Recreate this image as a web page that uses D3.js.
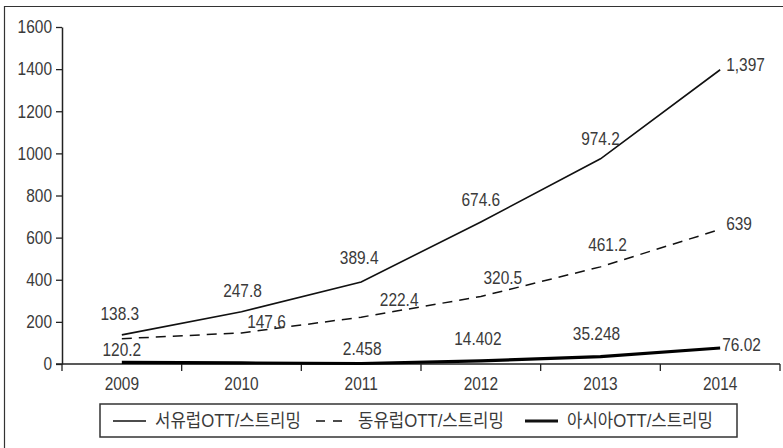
<!DOCTYPE html>
<html>
<head>
<meta charset="utf-8">
<script src="https://cdn.jsdelivr.net/npm/d3@7"></script>
<style>
  html, body { margin: 0; padding: 0; background: #fff; }
  svg text { font-family: "Liberation Sans", "Noto Sans CJK KR", sans-serif; fill: #3a3a3a; font-size: 18px; }
</style>
</head>
<body>
<svg id="chart" width="783" height="448"></svg>
<script>
// Market size by region, 2009–2014
const years = ["2009", "2010", "2011", "2012", "2013", "2014"];
const westEurope = [138.3, 247.8, 389.4, 674.6, 974.2, 1397];
const eastEurope = [120.2, 147.6, 222.4, 320.5, 461.2, 639];
const asia = [8, 5, 2.458, 14.402, 35.248, 76.02];
const westLabels = ["138.3", "247.8", "389.4", "674.6", "974.2", "1,397"];
const eastLabels = ["120.2", "147.6", "222.4", "320.5", "461.2", "639"];
const asiaLabels = [null, null, "2.458", "14.402", "35.248", "76.02"];
const yTicks = [0, 200, 400, 600, 800, 1000, 1200, 1400, 1600];
const seriesNames = ["서유럽OTT/스트리밍", "동유럽OTT/스트리밍", "아시아OTT/스트리밍"];

const SX = 0.86; // horizontal condensing of numeric text

const svg = d3.select("#chart");

// narrow text helper
function label(parent, px, py, str, anchor, sx) {
  return parent.append("text")
    .attr("transform", `translate(${px},${py}) scale(${sx || SX},1)`)
    .attr("dy", "0.35em")
    .attr("text-anchor", anchor || "middle")
    .text(str);
}

// frame
svg.append("path").attr("d", "M4.5,448 V6.5 H783")
  .attr("fill", "none").attr("stroke", "#333").attr("stroke-width", 1.2);

const x = d3.scaleBand().domain(years).range([62, 780]);
const y = d3.scaleLinear().domain([0, 1600]).range([364, 27]);
const cx = d => x(d) + x.bandwidth() / 2;

// y axis
const yAxis = svg.append("g").attr("transform", "translate(62,0)")
  .call(d3.axisLeft(y).tickValues(yTicks).tickSize(6).tickSizeOuter(0).tickFormat(() => ""));
yAxis.select(".domain").attr("stroke", "#222").attr("stroke-width", 1.5);
yAxis.selectAll(".tick line").attr("stroke", "#222").attr("stroke-width", 1.3);
yTicks.forEach(t => label(svg, 52, y(t), String(t), "end"));

// x axis with ticks at category boundaries
const xAxis = svg.append("g").attr("transform", `translate(0,${y(0)})`);
xAxis.append("line").attr("x1", 56).attr("x2", 780).attr("y1", 0).attr("y2", 0)
  .attr("stroke", "#222").attr("stroke-width", 1.5);
const bounds = years.map(d => x(d)).concat([x.range()[1]]);
xAxis.selectAll("line.b").data(bounds).join("line").attr("class", "b")
  .attr("x1", d => d).attr("x2", d => d).attr("y1", 0).attr("y2", 7)
  .attr("stroke", "#222").attr("stroke-width", 1.3);
years.forEach(d => label(xAxis, cx(d), 20, d));

const line = d3.line().x((d, i) => cx(years[i])).y(d => y(d));

svg.append("path").datum(eastEurope).attr("d", line).attr("fill", "none")
  .attr("stroke", "#111").attr("stroke-width", 1.5).attr("stroke-dasharray", "10,7");
svg.append("path").datum(westEurope).attr("d", line).attr("fill", "none")
  .attr("stroke", "#111").attr("stroke-width", 1.6);
svg.append("path").datum(asia).attr("d", line).attr("fill", "none")
  .attr("stroke", "#000").attr("stroke-width", 3.2);

// value labels (offsets relative to each point)
const westOff = [[-2, -21], [1, -21], [-2, -24], [0, -22], [0, -20], [6, -5, "start"]];
const eastOff = [[0, 11], [25, -11], [38, -17], [22, -19], [7, -22], [6, -6, "start"]];
const asiaOff = [null, null, [1, -15], [-3, -22], [-4, -23], [2, -3, "start"]];

function valueLabels(vals, texts, offs) {
  vals.forEach((v, i) => {
    if (!texts[i]) return;
    const o = offs[i];
    label(svg, cx(years[i]) + o[0], y(v) + o[1], texts[i], o[2]);
  });
}
valueLabels(westEurope, westLabels, westOff);
valueLabels(eastEurope, eastLabels, eastOff);
valueLabels(asia, asiaLabels, asiaOff);

// legend
const lg = svg.append("g");
lg.append("rect").attr("x", 100).attr("y", 404).attr("width", 637).attr("height", 33)
  .attr("fill", "#fff").attr("stroke", "#333").attr("stroke-width", 1.5);
const items = [
  { x: 113, dash: null, w: 1.6 },
  { x: 316, dash: "9,8", w: 1.5 },
  { x: 525, dash: null, w: 3.2 }
];
items.forEach((it, i) => {
  lg.append("line").attr("x1", it.x).attr("x2", it.x + 33).attr("y1", 421).attr("y2", 421)
    .attr("stroke", "#111").attr("stroke-width", it.w)
    .attr("stroke-dasharray", it.dash);
  label(lg, it.x + 42, 421, seriesNames[i], "start", 0.93);
});
</script>
</body>
</html>
